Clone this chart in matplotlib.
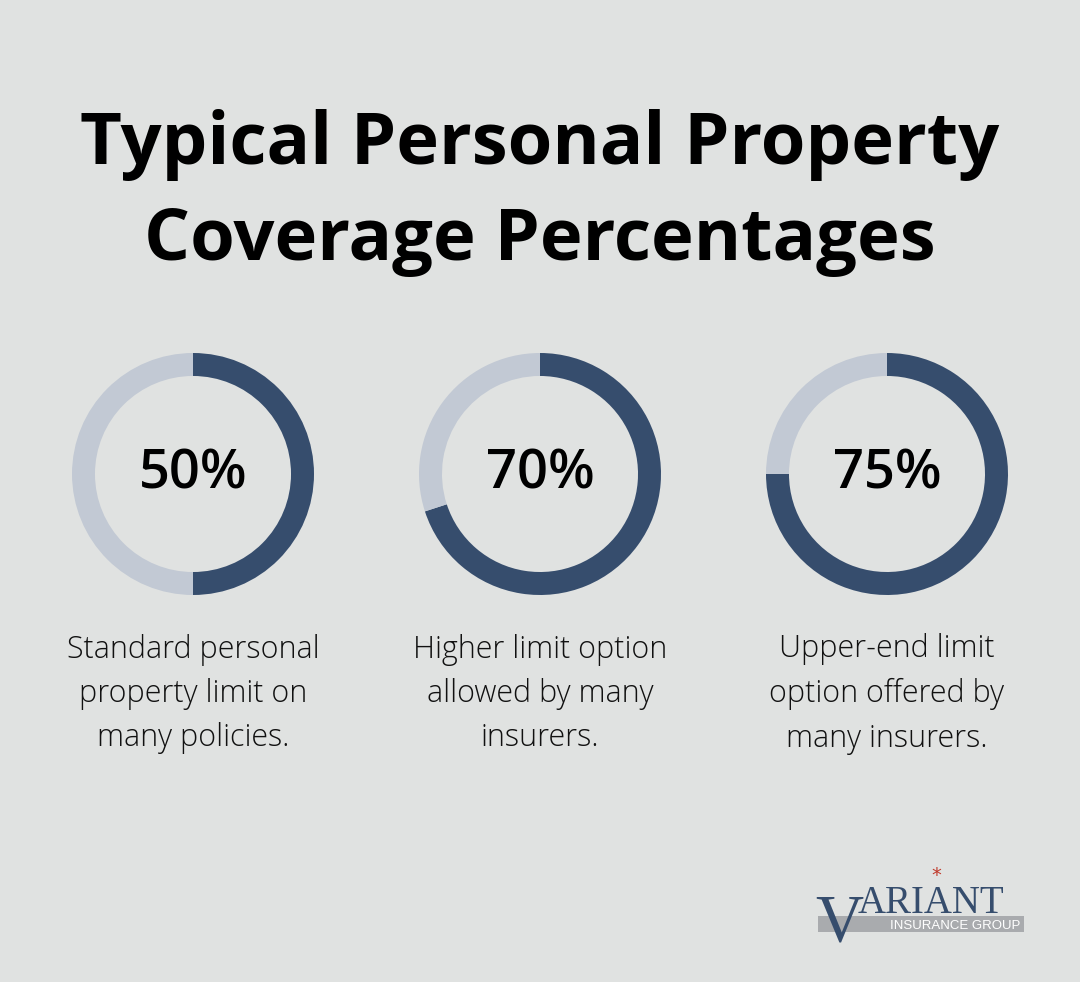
import matplotlib
matplotlib.use("Agg")
import matplotlib.pyplot as plt
from matplotlib.patches import Rectangle

title = "Typical Personal Property\nCoverage Percentages"
percents = [50, 70, 75]
labels = ["Standard personal\nproperty limit on\nmany policies.",
          "Higher limit option\nallowed by many\ninsurers.",
          "Upper-end limit\noption offered by\nmany insurers."]

BG = "#E0E2E1"
DARK = "#364D6D"
LIGHT = "#C2C9D4"
W, H = 1080, 982
fig = plt.figure(figsize=(10.8, 9.82), dpi=100, facecolor=BG)
base = fig.add_axes([0, 0, 1, 1])
base.set_xlim(0, W); base.set_ylim(H, 0); base.axis("off")

base.text(540, 193, title, ha="center", va="center", fontsize=52, fontweight="bold",
          family="Open Sans", color="black", linespacing=1.42)

centers = [193, 540, 887]
cy, R = 474, 121
for cx, p, lab in zip(centers, percents, labels):
    ax = fig.add_axes([(cx - R) / W, (H - cy - R) / H, 2 * R / W, 2 * R / H])
    ax.pie([p, 100 - p], colors=[DARK, LIGHT], startangle=90, counterclock=False,
           wedgeprops=dict(width=0.19, linewidth=0), radius=1)
    ax.set_xlim(-1, 1); ax.set_ylim(-1, 1)
    ax.set_aspect("equal"); ax.axis("off")
    base.text(cx, cy, f"{p}%", ha="center", va="center", fontsize=39,
              fontweight="semibold", family="Open Sans", color="black")
    base.text(cx, 694, lab, ha="center", va="center", fontsize=22, fontweight="light",
              family="Open Sans", color="#111111", linespacing=1.52)

# logo
base.add_patch(Rectangle((818, 916), 206, 16, color="#A9ABAE", lw=0))
base.text(815, 940, "V", fontsize=48, family="Liberation Serif", color="#364D6D", va="baseline")
base.text(858, 913, "ARIANT", fontsize=28, family="Liberation Serif", color="#364D6D", va="baseline")
base.text(1020, 929, "INSURANCE GROUP", fontsize=9.5, family="Liberation Sans", color="white",
          ha="right", va="baseline")
base.text(936, 876, "*", fontsize=14, color="#C0392B", ha="center", va="center")

fig.savefig("out.png", dpi=100, facecolor=BG)
